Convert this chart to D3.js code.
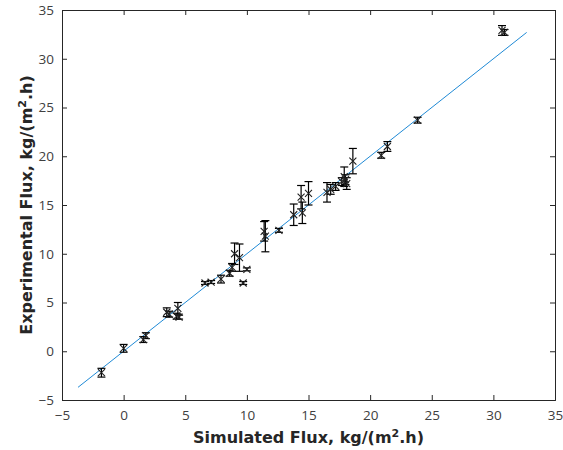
<!DOCTYPE html>
<html>
<head>
<meta charset="utf-8">
<script src="https://cdn.jsdelivr.net/npm/d3@7"></script>
<style>
  body { margin: 0; background: #fff; }
  text { font-family: "Open Sans", "DejaVu Sans", sans-serif; }
</style>
</head>
<body>
<div id="chart"></div>
<script>
// simulated flux (x), experimental flux (y), error half-width
const simFlux = [-1.8, 0.0, 1.6, 1.8, 3.5, 3.7, 4.3, 4.4, 4.5, 6.6, 7.1, 7.9, 8.6, 8.8, 9.0, 9.4, 9.7, 10.0,
  11.4, 11.5, 12.6, 13.8, 14.4, 14.5, 15.0, 16.5, 16.8, 17.2, 17.7, 17.9, 18.0, 18.1, 18.6, 20.9, 21.4, 23.85, 30.7, 30.9];
const expFlux = [-2.2, 0.3, 1.2, 1.6, 4.0, 3.8, 3.6, 4.4, 3.5, 7.0, 7.1, 7.4, 8.0, 8.6, 10.0, 9.6, 7.0, 8.4,
  12.3, 11.8, 12.4, 14.0, 15.8, 14.2, 16.2, 16.3, 16.6, 16.9, 17.4, 17.9, 17.6, 17.2, 19.5, 20.1, 21.0, 23.7, 32.9, 32.7];
const expErr = [0.45, 0.4, 0.3, 0.3, 0.45, 0.3, 0.3, 0.6, 0.2, 0.15, 0.15, 0.4, 0.3, 0.4, 1.1, 1.4, 0.15, 0.15,
  1.0, 1.6, 0.2, 1.1, 1.2, 1.1, 1.2, 1.0, 0.5, 0.4, 0.4, 1.0, 0.5, 0.6, 1.3, 0.3, 0.5, 0.3, 0.5, 0.3];
const fitLine = [-3.7, 32.7];
const xTicks = [-5, 0, 5, 10, 15, 20, 25, 30, 35];
const yTicks = [-5, 0, 5, 10, 15, 20, 25, 30, 35];

const W = 563, H = 450;
const margin = { top: 10, right: 8, bottom: 50, left: 62 };
const width = W - margin.left - margin.right;
const height = H - margin.top - margin.bottom;

const svg = d3.select("#chart").append("svg")
  .attr("width", W)
  .attr("height", H);

const g = svg.append("g")
  .attr("transform", `translate(${margin.left},${margin.top})`);

const x = d3.scaleLinear().domain([-5, 35]).range([0, width]);
const y = d3.scaleLinear().domain([-5, 35]).range([height, 0]);

const axisColor = "#262626";
const fmt = d => d < 0 ? "\u2212" + Math.abs(d) : String(d);

// axes with inward ticks, box on all four sides
const xAxis = g.append("g")
  .attr("transform", `translate(0,${height})`)
  .call(d3.axisBottom(x).tickValues(xTicks).tickSize(-5).tickPadding(10).tickFormat(fmt));
const xTop = g.append("g")
  .call(d3.axisTop(x).tickValues(xTicks).tickSize(-5).tickFormat(""));
const yAxis = g.append("g")
  .call(d3.axisLeft(y).tickValues(yTicks).tickSize(-5).tickPadding(8).tickFormat(fmt));
const yRight = g.append("g")
  .attr("transform", `translate(${width},0)`)
  .call(d3.axisRight(y).tickValues(yTicks).tickSize(-5).tickFormat(""));

[xAxis, xTop, yAxis, yRight].forEach(a => {
  a.select(".domain").attr("stroke", axisColor).attr("stroke-width", 1);
  a.selectAll(".tick line").attr("stroke", axisColor);
  a.selectAll(".tick text").attr("fill", "#404040").style("font-size", "13.5px");
});

// fit line y = x
g.append("line")
  .attr("x1", x(fitLine[0])).attr("y1", y(fitLine[0]))
  .attr("x2", x(fitLine[1])).attr("y2", y(fitLine[1]))
  .attr("stroke", "#1f8ad6")
  .attr("stroke-width", 1);

const data = simFlux.map((d, i) => ({ sx: d, ey: expFlux[i], err: expErr[i] }));
const cap = 4, mk = 3.5;

// error bars
const eb = g.append("g").attr("class", "errorbars")
  .selectAll("g").data(data).enter().append("g")
  .attr("stroke", "#000")
  .attr("stroke-width", 1.2);
eb.append("line")
  .attr("x1", d => x(d.sx)).attr("x2", d => x(d.sx))
  .attr("y1", d => y(d.ey - d.err)).attr("y2", d => y(d.ey + d.err));
eb.append("line")
  .attr("x1", d => x(d.sx) - cap).attr("x2", d => x(d.sx) + cap)
  .attr("y1", d => y(d.ey + d.err)).attr("y2", d => y(d.ey + d.err));
eb.append("line")
  .attr("x1", d => x(d.sx) - cap).attr("x2", d => x(d.sx) + cap)
  .attr("y1", d => y(d.ey - d.err)).attr("y2", d => y(d.ey - d.err));

// x markers
g.append("g").attr("class", "markers")
  .selectAll("path").data(data).enter().append("path")
  .attr("d", d => {
    const cx = x(d.sx), cy = y(d.ey);
    return `M${cx - mk},${cy - mk}L${cx + mk},${cy + mk}M${cx - mk},${cy + mk}L${cx + mk},${cy - mk}`;
  })
  .attr("stroke", "#222")
  .attr("stroke-width", 1.1)
  .attr("fill", "none");

// axis labels
const labelFont = "'DejaVu Sans', sans-serif";
const xl = svg.append("text")
  .attr("x", margin.left + width / 2)
  .attr("y", 443)
  .attr("text-anchor", "middle")
  .style("font-family", labelFont)
  .style("font-size", "16px")
  .style("font-weight", "bold")
  .attr("fill", "#262626");
xl.append("tspan").text("Simulated Flux, kg/(m");
xl.append("tspan").attr("dy", -6).style("font-size", "11px").text("2");
xl.append("tspan").attr("dy", 6).text(".h)");

const yl = svg.append("text")
  .attr("transform", `translate(32,${margin.top + height / 2}) rotate(-90)`)
  .attr("text-anchor", "middle")
  .style("font-family", labelFont)
  .style("font-size", "16px")
  .style("font-weight", "bold")
  .attr("fill", "#262626");
yl.append("tspan").text("Experimental Flux, kg/(m");
yl.append("tspan").attr("dy", -6).style("font-size", "11px").text("2");
yl.append("tspan").attr("dy", 6).text(".h)");
</script>
</body>
</html>
